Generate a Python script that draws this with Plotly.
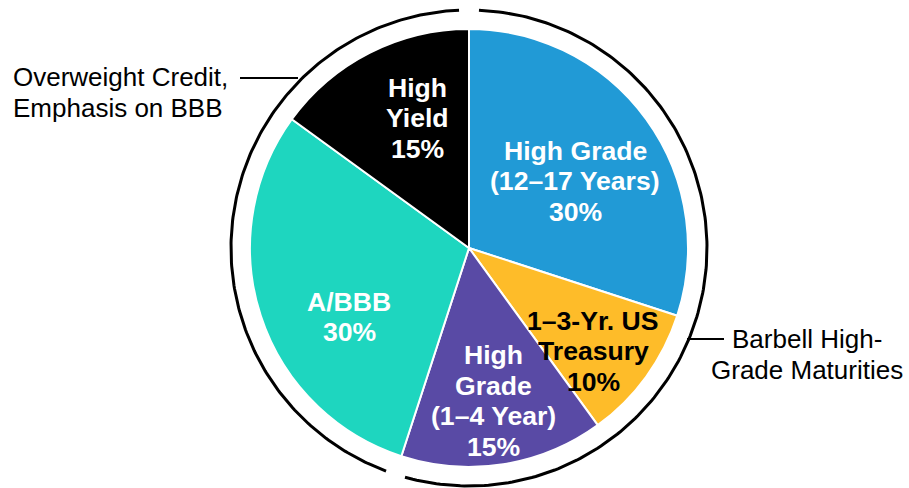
import math
import plotly.graph_objects as go

# ---- data ----
categories = ["High Grade (12–17 Years)", "1–3-Yr. US Treasury", "High Grade (1–4 Year)", "A/BBB", "High Yield"]
values = [30, 10, 15, 30, 15]
slice_labels = [["High Grade", "(12–17 Years)", "30%"],
                ["1–3-Yr. US", "Treasury", "10%"],
                ["High", "Grade", "(1–4 Year)", "15%"],
                ["A/BBB", "30%"],
                ["High", "Yield", "15%"]]
colors = ["#219AD6", "#FEBC29", "#594AA5", "#1ED6BF", "#000000"]
text_colors = ["white", "black", "white", "white", "white"]
groups = [["Barbell High-", "Grade Maturities"], ["Overweight Credit,", "Emphasis on BBB"]]
group_members = [[0, 1, 2], [3, 4]]

# ---- geometry (pixels) ----
W, H = 909, 488
cx, cy, R = 469, 248, 219
ring_r = 238
gap_deg = 2.4
line_h = 30.5

label_pos = [(575, 181), (593, 351), (493, 401), (349, 317), (417, 118)]
group_pos = [(807, 354.5), (11, 92.5)]
group_anchor = ["center", "left"]

fig = go.Figure()
fig.add_trace(go.Pie(
    labels=categories, values=values, sort=False, direction="clockwise", rotation=0,
    marker=dict(colors=colors, line=dict(color="white", width=2)),
    textinfo="none", hoverinfo="skip", showlegend=False,
    domain=dict(x=[(cx - R) / W, (cx + R) / W], y=[(H - cy - R) / H, (H - cy + R) / H]),
))

total = sum(values)
cum = [0]
for v in values:
    cum.append(cum[-1] + v)

for members in group_members:
    a0 = cum[members[0]] / total * 360 + gap_deg
    a1 = cum[members[-1] + 1] / total * 360 - gap_deg
    n = 200
    xs, ys = [], []
    for i in range(n + 1):
        a = math.radians(a0 + (a1 - a0) * i / n)
        xs.append(cx + ring_r * math.sin(a))
        ys.append(cy - ring_r * math.cos(a))
    fig.add_trace(go.Scatter(x=xs, y=ys, mode="lines", line=dict(color="black", width=3),
                             hoverinfo="skip", showlegend=False))

# connector lines
fig.add_trace(go.Scatter(x=[240, 298], y=[78, 78], mode="lines", line=dict(color="black", width=2),
                         hoverinfo="skip", showlegend=False))
fig.add_trace(go.Scatter(x=[687, 724], y=[339, 339], mode="lines", line=dict(color="black", width=2),
                         hoverinfo="skip", showlegend=False))

font_fam = "Liberation Sans, Arial, sans-serif"


def add_lines(lines, x, yc, color, bold, anchor, size):
    n = len(lines)
    for i, t in enumerate(lines):
        y = yc + (i - (n - 1) / 2) * line_h
        fig.add_annotation(x=x, y=y, xref="x", yref="y", text=("<b>%s</b>" % t) if bold else t,
                           showarrow=False, font=dict(family=font_fam, size=size, color=color),
                           xanchor=anchor, yanchor="middle")


for lines, (x, y), tc in zip(slice_labels, label_pos, text_colors):
    add_lines(lines, x, y, tc, True, "center", 26.6)

for lines, (x, y), anc in zip(groups, group_pos, group_anchor):
    add_lines(lines, x, y, "black", False, anc, 26)

fig.update_layout(
    width=W, height=H, margin=dict(l=0, r=0, t=0, b=0),
    paper_bgcolor="white", plot_bgcolor="rgba(0,0,0,0)",
    xaxis=dict(range=[0, W], visible=False, fixedrange=True, domain=[0, 1]),
    yaxis=dict(range=[H, 0], visible=False, fixedrange=True, domain=[0, 1]),
)

fig.write_html("out.html", config={"displayModeBar": False},
               post_script="document.body.style.margin='0';document.body.style.overflow='hidden';")
